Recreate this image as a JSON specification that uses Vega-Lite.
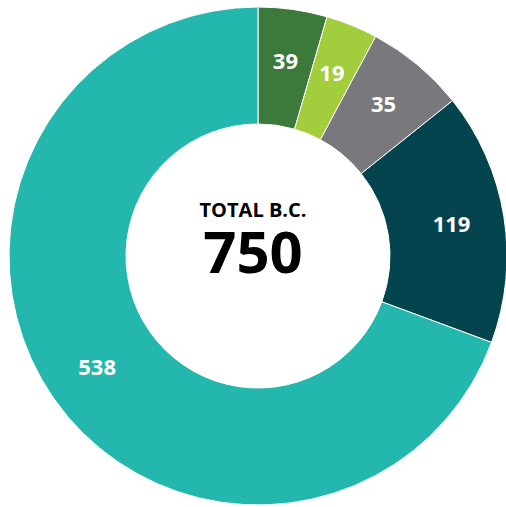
{
  "$schema": "https://vega.github.io/schema/vega-lite/v6.json",
  "width": 506,
  "height": 507,
  "autosize": {"type": "fit", "contains": "padding"},
  "padding": {"left": 10, "right": 0, "top": 5, "bottom": 0},
  "background": "white",
  "config": {"view": {"stroke": null}},
  "layer": [
    {
      "data": {"values": [
        {"idx": 1, "label": "39", "arc": 16.1},
        {"idx": 2, "label": "19", "arc": 12.1},
        {"idx": 3, "label": "35", "arc": 23.2},
        {"idx": 4, "label": "119", "arc": 58.9},
        {"idx": 5, "label": "538", "arc": 249.7}
      ]},
      "encoding": {
        "theta": {"field": "arc", "type": "quantitative", "stack": true},
        "order": {"field": "idx", "type": "quantitative"}
      },
      "layer": [
        {
          "mark": {"type": "arc", "innerRadius": 132, "outerRadius": 249, "stroke": "white", "strokeWidth": 1},
          "encoding": {
            "color": {
              "field": "label", "type": "nominal", "legend": null,
              "scale": {"domain": ["39", "19", "35", "119", "538"], "range": ["#3c7a3c", "#a2cd3c", "#78787d", "#03444f", "#24b7ad"]}
            }
          }
        },
        {
          "mark": {"type": "text", "radius": 196, "font": "Open Sans", "fontWeight": "bold", "fontSize": 22, "fill": "white", "align": "center", "baseline": "middle"},
          "encoding": {"text": {"field": "label", "type": "nominal"}}
        }
      ]
    },
    {
      "data": {"values": [{"title": "TOTAL B.C.", "total": 750}]},
      "layer": [
        {
          "mark": {"type": "text", "font": "Open Sans", "fontWeight": "bold", "fontSize": 20, "fill": "black", "align": "center", "baseline": "middle", "dy": -45, "dx": -5},
          "encoding": {"text": {"field": "title", "type": "nominal"}}
        },
        {
          "mark": {"type": "text", "font": "Open Sans", "fontWeight": "bold", "fontSize": 58, "fill": "black", "align": "center", "baseline": "middle", "dy": 0, "dx": -5},
          "encoding": {"text": {"field": "total", "type": "quantitative"}}
        }
      ]
    }
  ]
}
